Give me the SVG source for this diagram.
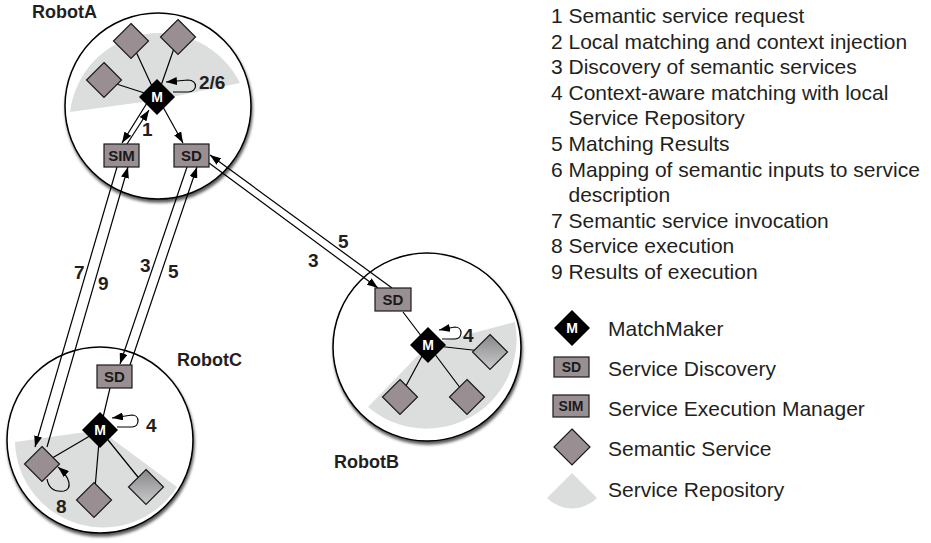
<svg xmlns="http://www.w3.org/2000/svg" width="931" height="543" viewBox="0 0 931 543">
<defs>
<style>
.robot{fill:#fff;stroke:#000;stroke-width:1.5;filter:url(#sh)}
.repo{fill:#dcdddd}
.svc{fill:#998f93;stroke:#1a1a1a;stroke-width:1.2}
.svcg{fill:url(#grad);stroke:#1a1a1a;stroke-width:1.2}
.mm{fill:#000}
.box{fill:#998f93;stroke:#1a1a1a;stroke-width:1.2}
.bt{font-family:"Liberation Sans",Arial,sans-serif;font-weight:bold;font-size:15px;fill:#1a1a1a;text-anchor:middle}
.mt{font-family:"Liberation Sans",Arial,sans-serif;font-weight:bold;font-size:14px;fill:#fff;text-anchor:middle}
.rl{font-family:"Liberation Sans",Arial,sans-serif;font-weight:bold;font-size:18px;fill:#231f20}
.lbl{font-family:"Liberation Sans",Arial,sans-serif;font-weight:bold;font-size:19px;fill:#231f20}
.leg{font-family:"Liberation Sans",Arial,sans-serif;font-size:21px;fill:#231f20}
.ln{fill:none;stroke:#000;stroke-width:1.2}
.arr{fill:none;stroke:#000;stroke-width:1.2;marker-end:url(#ah)}
</style>
<marker id="ah" markerWidth="11" markerHeight="8" refX="11" refY="4" orient="auto" markerUnits="userSpaceOnUse"><path d="M0,0 L11,4 L0,8 Z" fill="#000"/></marker>
<linearGradient id="grad" x1="0" y1="0" x2="0" y2="1"><stop offset="0" stop-color="#88868b"/><stop offset="1" stop-color="#cacaca"/></linearGradient>
<filter id="sh" x="-10%" y="-10%" width="125%" height="130%"><feDropShadow dx="1" dy="3" stdDeviation="1.5" flood-color="#000" flood-opacity="0.65"/></filter>
</defs>

<!-- robot backgrounds -->
<g id="robotA">
<circle class="robot" cx="158" cy="106" r="93"/>
<path class="repo" d="M157,100 L240,83 A90,90 0 0 0 70,112 Z"/>
<text class="rl" x="32" y="18">RobotA</text>
</g>
<g id="robotB">
<circle class="robot" cx="427" cy="347" r="94"/>
<path class="repo" d="M428,345 L515,322 A90,90 0 0 1 368,407 Z"/>
<text class="rl" x="334" y="468">RobotB</text>
</g>
<g id="robotC">
<circle class="robot" cx="100" cy="440" r="93"/>
<path class="repo" d="M100,430 L177,487 A88,88 0 0 1 15,442 Z"/>
<text class="rl" x="177" y="366">RobotC</text>
</g>

<!-- connectors -->
<g id="connectors">
<!-- Robot A internal -->
<path class="ln" d="M157,97 L131,41 M157,97 L178,37 M157,97 L104,80"/>
<path class="arr" d="M147,103 L122,143"/>
<path class="arr" d="M127,144 L149,110"/>
<path class="arr" d="M163,107 L183,143"/>
<path class="arr" d="M173,92 L188,92 C198,92 198,80 188,80 L166,82"/>
<!-- A <-> C -->
<path class="arr" d="M117,167 L35,447"/>
<path class="arr" d="M47,447 L128,167"/>
<path class="arr" d="M187,167 L120,364"/>
<path class="arr" d="M130,365 L197,167"/>
<!-- A <-> B -->
<path class="arr" d="M392,288 L210,155"/>
<path class="arr" d="M209,163 L378,288"/>
<!-- Robot B internal -->
<path class="ln" d="M403,312 L428,345 M428,345 L490,352 M428,345 L400,397 M428,345 L467,397"/>
<path class="arr" d="M442,339 L455,339 C463,339 463,327 455,327 L439,330"/>
<!-- Robot C internal -->
<path class="ln" d="M110,388 L100,430 M100,430 L42,464 M100,430 L94,500 M100,430 L146,487"/>
<path class="arr" d="M117,427 L132,427 C140,427 140,415 132,415 L112,418"/>
<path class="arr" d="M47,479 C49,490 57,492 64,491 C72,489 71,478 58,467"/>
<!-- step labels -->
<text class="lbl" x="142" y="136">1</text>
<text class="lbl" x="199" y="89">2/6</text>
<text class="lbl" x="74" y="279">7</text>
<text class="lbl" x="98" y="290">9</text>
<text class="lbl" x="140" y="272">3</text>
<text class="lbl" x="168" y="278">5</text>
<text class="lbl" x="338" y="248">5</text>
<text class="lbl" x="308" y="267">3</text>
<text class="lbl" x="463" y="342">4</text>
<text class="lbl" x="146" y="432">4</text>
<text class="lbl" x="56" y="513">8</text>
</g>

<!-- Robot A nodes -->
<g id="A-svc1"><polygon class="svc" points="131,23.5 148.5,41 131,58.5 113.5,41"/></g>
<g id="A-svc2"><polygon class="svc" points="178,19.5 195.5,37 178,54.5 160.5,37"/></g>
<g id="A-svc3"><polygon class="svc" points="104,62.5 121.5,80 104,97.5 86.5,80"/></g>
<g id="A-M"><polygon class="mm" points="157,79 175,97 157,115 139,97"/><text class="mt" x="157" y="102">M</text></g>
<g id="A-SIM"><rect class="box" x="104" y="144" width="35" height="23"/><text class="bt" x="121.5" y="161">SIM</text></g>
<g id="A-SD"><rect class="box" x="174" y="144" width="35" height="23"/><text class="bt" x="191.5" y="161">SD</text></g>

<!-- Robot B nodes -->
<g id="B-SD"><rect class="box" x="375" y="288" width="36" height="23"/><text class="bt" x="393" y="305">SD</text></g>
<g id="B-M"><polygon class="mm" points="428,327 446,345 428,363 410,345"/><text class="mt" x="428" y="350">M</text></g>
<g id="B-svc1"><polygon class="svcg" points="490,334.5 507.5,352 490,369.5 472.5,352"/></g>
<g id="B-svc2"><polygon class="svc" points="400,379.5 417.5,397 400,414.5 382.5,397"/></g>
<g id="B-svc3"><polygon class="svc" points="467,379.5 484.5,397 467,414.5 449.5,397"/></g>

<!-- Robot C nodes -->
<g id="C-SD"><rect class="box" x="97" y="365" width="35" height="23"/><text class="bt" x="114.5" y="382">SD</text></g>
<g id="C-M"><polygon class="mm" points="100,412 118,430 100,448 82,430"/><text class="mt" x="100" y="435">M</text></g>
<g id="C-svc1"><polygon class="svc" points="42,446.5 59.5,464 42,481.5 24.5,464"/></g>
<g id="C-svc2"><polygon class="svc" points="94,482.5 111.5,500 94,517.5 76.5,500"/></g>
<g id="C-svc3"><polygon class="svcg" points="146,469.5 163.5,487 146,504.5 128.5,487"/></g>

<!-- Legend list -->
<g id="steps">
<text class="leg" x="551" y="23">1 Semantic service request</text>
<text class="leg" x="551" y="48.6">2 Local matching and context injection</text>
<text class="leg" x="551" y="74.2">3 Discovery of semantic services</text>
<text class="leg" x="551" y="99.8">4 Context-aware matching with local</text>
<text class="leg" x="568.5" y="125.4">Service Repository</text>
<text class="leg" x="551" y="151">5 Matching Results</text>
<text class="leg" x="551" y="176.6">6 Mapping of semantic inputs to service</text>
<text class="leg" x="568.5" y="202.2">description</text>
<text class="leg" x="551" y="227.8">7 Semantic service invocation</text>
<text class="leg" x="551" y="253.4">8 Service execution</text>
<text class="leg" x="551" y="279">9 Results of execution</text>
</g>

<!-- Legend symbols -->
<g id="legend-M"><polygon class="mm" points="572,310 590,328 572,346 554,328"/><text class="mt" x="572" y="333">M</text><text class="leg" x="608" y="336">MatchMaker</text></g>
<g id="legend-SD"><rect class="box" x="554" y="357" width="35" height="20"/><text class="bt" x="571.5" y="372" style="font-size:14px">SD</text><text class="leg" x="608" y="376">Service Discovery</text></g>
<g id="legend-SIM"><rect class="box" x="553" y="395" width="36" height="22"/><text class="bt" x="571" y="411" style="font-size:14px">SIM</text><text class="leg" x="608" y="416">Service Execution Manager</text></g>
<g id="legend-svc"><polygon class="svc" points="572,429 590,447 572,465 554,447"/><text class="leg" x="608" y="456">Semantic Service</text></g>
<g id="legend-repo"><path class="repo" d="M572,473 L547,498 A35,35 0 0 0 597,498 Z"/><text class="leg" x="608" y="497">Service Repository</text></g>
</svg>
